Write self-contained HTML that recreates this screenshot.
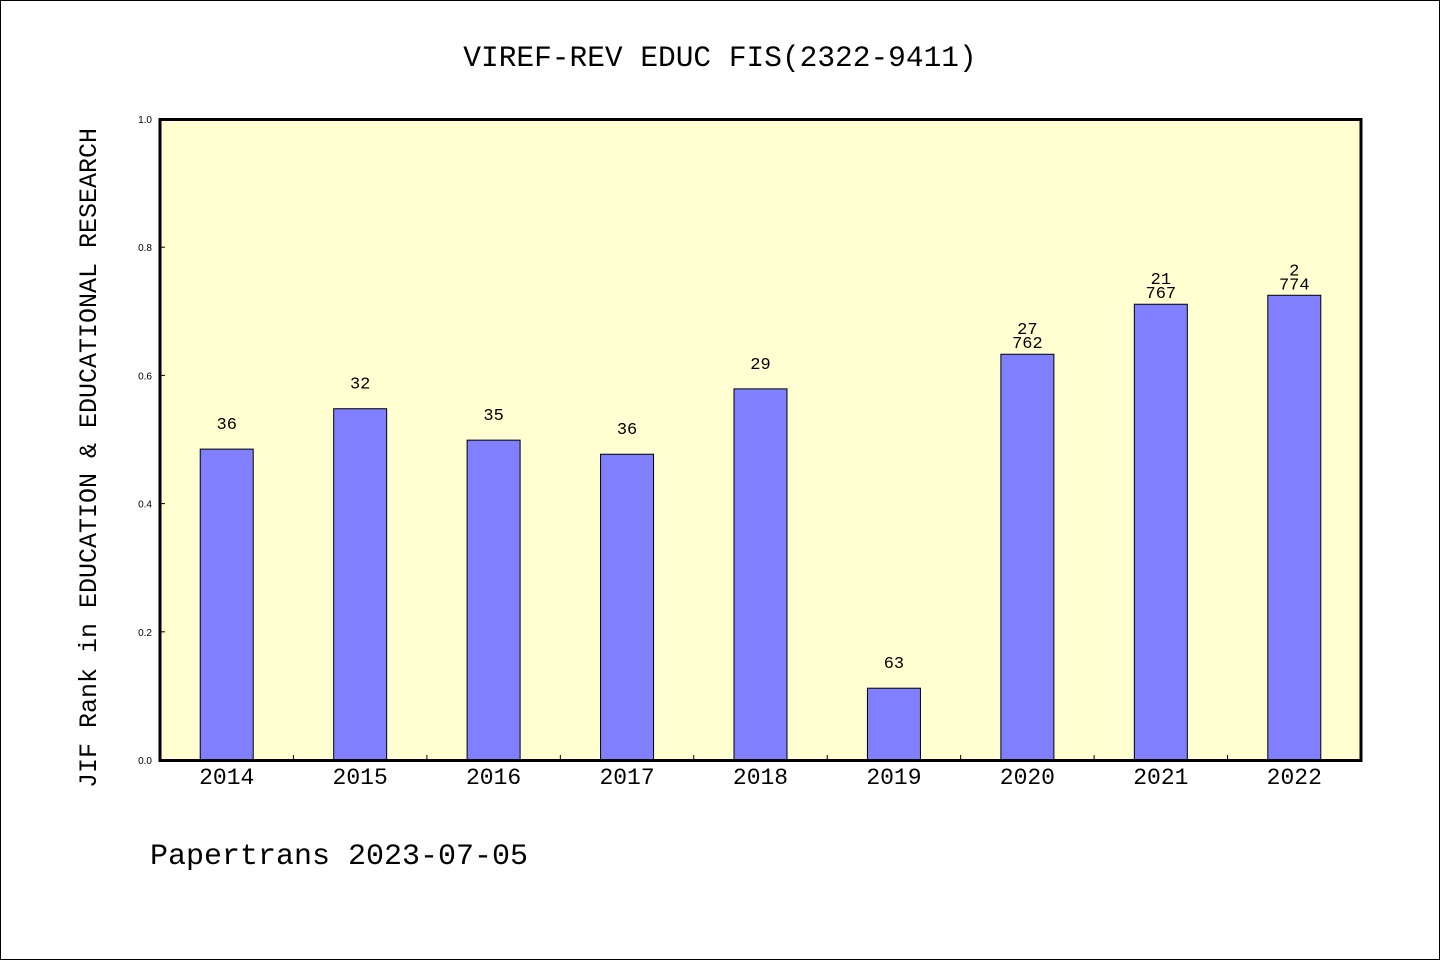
<!DOCTYPE html>
<html><head><meta charset="utf-8"><style>
html,body{margin:0;padding:0;background:#fff;}
svg{display:block;}
text{font-family:"Liberation Mono","WenQuanYi Zen Hei",monospace;fill:#000;}
</style></head><body>
<svg id="chart" width="1440" height="960">
<rect x="0.5" y="0.5" width="1439" height="959" fill="#fff" stroke="#000"/>
<text x="720" y="66" text-anchor="middle" font-size="29.5">VIREF-REV EDUC FIS(2322-9411)</text>
<text transform="translate(96,458) rotate(-90)" text-anchor="middle" font-size="25">JIF Rank in EDUCATION &amp; EDUCATIONAL RESEARCH</text>
<text x="150" y="864" font-size="30">Papertrans 2023-07-05</text>
<rect x="160" y="119" width="1201" height="641" fill="#ffffd2"/>
<g id="bars"></g>
<g id="ticks"></g>
<rect x="160" y="119.5" width="1201" height="641" fill="none" stroke="#000" stroke-width="3"/>
</svg>
<script>
const categories = ["2014","2015","2016","2017","2018","2019","2020","2021","2022"];
const values = [0.485,0.548,0.499,0.477,0.579,0.112,0.633,0.711,0.725];
const ranks = ["36","32","35","36","29","63","27","21","2"];
const totals = ["","","","","","","762","767","774"];
const yTicks = [0,0.2,0.4,0.6,0.8,1.0];
const ns="http://www.w3.org/2000/svg";
const X0=160,X1=1361,Y0=760,Y1=119;
const slot=(X1-X0)/categories.length;
const xc=i=>X0+slot*(i+0.5);
const y=v=>Y0-(Y0-Y1)*v;
const bars=document.getElementById('bars'),ticks=document.getElementById('ticks');
function mk(tag,attrs,parent){const e=document.createElementNS(ns,tag);for(const k in attrs)e.setAttribute(k,attrs[k]);parent.appendChild(e);return e;}
categories.forEach((c,i)=>{
  const top=y(values[i]);
  const r=mk('rect',{x:xc(i)-26.5,y:top,width:53,height:Y0-top,fill:'#8080ff',stroke:'#000','stroke-width':1},bars);
  
  
  const t=mk('text',{x:xc(i),y:Y0+24,'text-anchor':'middle','font-size':23},ticks);
  t.textContent=c;
  
  
  if(totals[i]){
    const a=mk('text',{x:xc(i),y:top-20,'text-anchor':'middle','font-size':17},bars);
    a.textContent=ranks[i];
    
    
    const b=mk('text',{x:xc(i),y:top-6,'text-anchor':'middle','font-size':17},bars);
    b.textContent=totals[i];
    
    
  } else {
    const a=mk('text',{x:xc(i),y:top-20,'text-anchor':'middle','font-size':17},bars);
    a.textContent=ranks[i];
    
    
  }
  if(i>0){
    const l=mk('line',{x1:X0+slot*i,x2:X0+slot*i,y1:Y0,y2:Y0-5,stroke:'#000'},ticks);
    
    
  }
});
yTicks.forEach(v=>{
  const l=mk('line',{x1:X0,x2:X0+5,y1:y(v),y2:y(v),stroke:'#000'},ticks);
  
  
  const t=mk('text',{x:X0-8,y:y(v)+4,'text-anchor':'end','font-size':10,style:'font-family:"Liberation Sans",sans-serif'},ticks);
  t.textContent=v.toFixed(1);
  
  
});
</script>
</body></html>
